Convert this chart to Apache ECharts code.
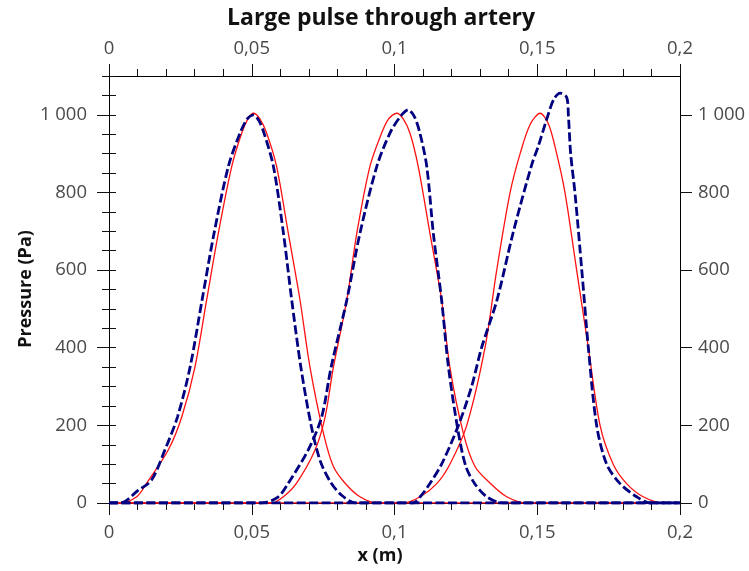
<!DOCTYPE html>
<html>
<head>
<meta charset="utf-8">
<script src="https://cdn.jsdelivr.net/npm/echarts@6/dist/echarts.min.js"></script>
<style>html,body{margin:0;padding:0;background:#fff}#c{width:749px;height:571px}</style>
</head>
<body>
<div id="c"></div>
<script>
// [x (m), pressure (Pa)]
const redPulse1 = [[0,0],[0.004,0],[0.0097,16],[0.0132,51],[0.0208,137],[0.0255,222],[0.0301,350],[0.0342,523],[0.0383,695],[0.043,867],[0.0465,953],[0.0487,990],[0.0506,1004],[0.0528,990],[0.0552,953],[0.0587,867],[0.0628,695],[0.0669,523],[0.0704,350],[0.0751,180],[0.0786,94],[0.0827,51],[0.0879,16],[0.094,0],[0.2,0]];
const redPulse2 = [[0,0],[0.057,0],[0.0611,16],[0.0657,51],[0.0722,137],[0.0757,222],[0.0786,350],[0.0833,523],[0.0868,695],[0.0914,867],[0.0955,953],[0.098,990],[0.1008,1004],[0.103,990],[0.1054,953],[0.1083,867],[0.1124,695],[0.1165,523],[0.1194,350],[0.1241,180],[0.1282,94],[0.1335,51],[0.1393,16],[0.1463,0],[0.2,0]];
const redPulse3 = [[0,0],[0.103,0],[0.109,16],[0.1148,50],[0.1194,100],[0.1253,200],[0.1317,400],[0.1358,600],[0.1405,800],[0.144,900],[0.1475,975],[0.151,1004],[0.154,975],[0.1568,900],[0.1597,800],[0.1638,600],[0.1679,400],[0.172,200],[0.1766,100],[0.1813,50],[0.1871,16],[0.1942,0],[0.2,0]];
const bluePulse1 = [[0,0],[0.0039,0],[0.0103,33],[0.0149,59],[0.0196,137],[0.024,222],[0.0284,350],[0.0326,523],[0.0368,695],[0.0418,867],[0.0459,953],[0.0485,990],[0.0506,1000],[0.0525,985],[0.0543,953],[0.0576,867],[0.0611,695],[0.064,523],[0.0672,350],[0.0708,200],[0.0739,110],[0.0775,55],[0.0815,20],[0.0865,0],[0.2,0]];
const bluePulse2 = [[0,0],[0.0535,0],[0.0593,16],[0.0628,51],[0.0698,137],[0.0745,222],[0.0778,350],[0.0833,523],[0.0879,695],[0.0938,867],[0.0984,953],[0.102,995],[0.1048,1013],[0.107,995],[0.1089,953],[0.1113,867],[0.1136,695],[0.1165,523],[0.1189,350],[0.1224,180],[0.125,94],[0.128,51],[0.1323,16],[0.138,0],[0.2,0]];
const bluePulse3 = [[0,0],[0.1065,0],[0.109,16],[0.1124,50],[0.1165,100],[0.1224,200],[0.127,300],[0.1305,400],[0.1359,523],[0.1415,695],[0.148,870],[0.1504,920],[0.1538,1000],[0.1558,1040],[0.158,1056],[0.1603,1045],[0.1609,1000],[0.1617,900],[0.1632,800],[0.1656,600],[0.1679,400],[0.1708,200],[0.1743,100],[0.179,50],[0.1848,16],[0.1895,0],[0.2,0]];

const titleText = 'Large pulse through artery';
const xName = 'x (m)';
const yName = 'Pressure (Pa)';

const FONT = '"Open Sans", "DejaVu Sans", sans-serif';
const LABEL_COLOR = '#4a4a4a';
const fmtX = v => String(+v.toFixed(4)).replace('.', ',');
const fmtY = v => String(Math.round(v)).replace(/\B(?=(\d{3})+(?!\d))/g, ' ');

function xAxisDef(pos, margin) {
  return {
    type: 'value', position: pos, min: 0, max: 0.2, interval: 0.05,
    axisLine: { show: true, onZero: false, lineStyle: { color: '#000', width: 1 } },
    axisTick: { show: true, inside: false, length: 12, lineStyle: { color: '#111', width: 1 } },
    minorTick: { show: true, splitNumber: 5, length: 7, lineStyle: { color: '#111', width: 1 } },
    axisLabel: { margin: margin, fontSize: 18.5, fontFamily: FONT, color: LABEL_COLOR, formatter: fmtX },
    splitLine: { show: false }, minorSplitLine: { show: false }
  };
}
function yMajor(pos, margin) {
  return {
    type: 'value', position: pos, min: 0, max: 1100, interval: 200,
    axisLine: { show: true, onZero: false, lineStyle: { color: '#000', width: 1 } },
    axisTick: { show: true, inside: false, length: 12, lineStyle: { color: '#111', width: 1 } },
    axisLabel: { margin: margin, fontSize: 18.5, fontFamily: FONT, color: LABEL_COLOR, formatter: fmtY, showMaxLabel: false },
    splitLine: { show: false }
  };
}
function yMinor(pos) {
  return {
    type: 'value', position: pos, min: 0, max: 1100, interval: 50,
    axisLine: { show: false },
    axisTick: { show: true, inside: false, length: 7, lineStyle: { color: '#111', width: 1 } },
    axisLabel: { show: false },
    splitLine: { show: false }
  };
}
function red(d) {
  return { type: 'line', data: d, xAxisIndex: 0, yAxisIndex: 0, showSymbol: false, smooth: 0.3, z: 3,
    lineStyle: { color: '#ff1010', width: 1.3 } };
}
function blue(d) {
  return { type: 'line', data: d, xAxisIndex: 0, yAxisIndex: 0, showSymbol: false, smooth: 0.3, z: 4,
    lineStyle: { color: '#000080', width: 2.8, type: [9, 3.5] } };
}

const chart = echarts.init(document.getElementById('c'), null, { renderer: 'canvas' });
chart.setOption({
  animation: false,
  backgroundColor: '#fff',
  grid: { left: 109, right: 69, top: 76, bottom: 68 },
  xAxis: [xAxisDef('bottom', 20), xAxisDef('top', 18)],
  yAxis: [yMajor('left', 22), yMinor('left'), yMajor('right', 18), yMinor('right')],
  series: [red(redPulse1), red(redPulse2), red(redPulse3), blue(bluePulse1), blue(bluePulse2), blue(bluePulse3)],
  graphic: [
    { type: 'text', x: 381, y: 18, style: { text: titleText, font: 'bold 23px ' + FONT, fill: '#111', align: 'center', verticalAlign: 'middle', textAlign: 'center', textVerticalAlign: 'middle' } },
    { type: 'text', x: 380, y: 556, style: { text: xName, font: 'bold 18px ' + FONT, fill: '#111', align: 'center', verticalAlign: 'middle', textAlign: 'center', textVerticalAlign: 'middle' } },
    { type: 'text', x: 26, y: 289, rotation: Math.PI / 2, style: { text: yName, font: 'bold 18px ' + FONT, fill: '#111', align: 'center', verticalAlign: 'middle', textAlign: 'center', textVerticalAlign: 'middle' } }
  ]
});
</script>
</body>
</html>
